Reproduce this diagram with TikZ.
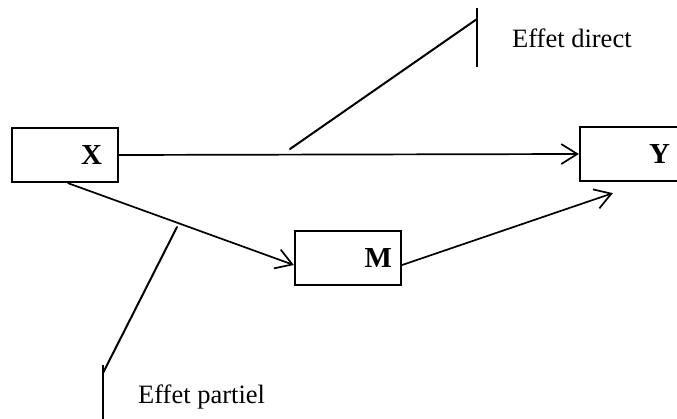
\documentclass[tikz,border=0pt]{standalone}
\usepackage{fontspec}
\setmainfont{Liberation Serif}
\usetikzlibrary{arrows.meta,calc}
\begin{document}
\begin{tikzpicture}[x=1pt,y=-1pt,
  varbox/.style={draw,line width=2.3pt,minimum width=106pt,minimum height=54pt,
    text width=106pt-2*#1,inner xsep=#1,align=right,
    font=\fontsize{29}{32}\selectfont\bfseries},
  conn/.style={line width=1.7pt,line cap=round,line join=round},
  arr/.style={conn,-{Straight Barb[length=16pt,width=20pt,line width=1.7pt]}},
  lbl/.style={anchor=base west,inner sep=0pt,font=\fontsize{26.5}{30}\selectfont}]
\useasboundingbox (0,0) rectangle (677,419);
\node[varbox=16pt] (X) at (65,155) {X};
\node[varbox=16pt] (Y) at (633,154) {Y};
\node[varbox=9pt] (M) at (348,258) {M};
\draw[arr] (X.east) -- (Y.west);
\draw[arr] ($(X.south)+(3,0)$) -- ($(M.west)+(0,7)$);
\coordinate (ytip) at ($(Y.south west)+(34,11)$);
\draw[arr] ($(M.east)+(0,7)$) -- (ytip);
% Effet direct
\coordinate (d1) at (290,149);
\coordinate (d2) at (477,19);
\coordinate (dt) at (477,8);
\coordinate (db) at (477,67);
\draw[conn,line width=2pt] (d1) -- (d2);
\draw[conn,line width=2pt,line cap=butt] (dt) -- (db);
\node[lbl] (ld) at (512,48) {Effet direct};
% Effet partiel
\coordinate (p1) at (177,227);
\coordinate (p2) at (103,373);
\coordinate (pt) at (103,365);
\coordinate (pb) at (103,425);
\draw[conn,line width=2pt] (p1) -- (p2);
\draw[conn,line width=2pt,line cap=butt] (pt) -- (pb);
\node[lbl] (lp) at (138,403) {Effet partiel};
\end{tikzpicture}
\end{document}
